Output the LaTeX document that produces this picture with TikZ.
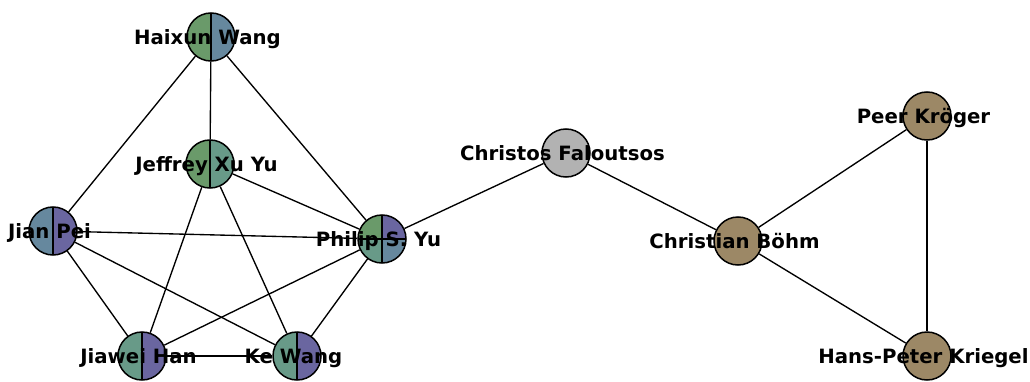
\documentclass[tikz,border=0pt]{standalone}
\usepackage{fontspec}
\setmainfont{DejaVu Sans}[BoldFont={DejaVu Sans Bold}]
\definecolor{cgreen}{RGB}{106,154,106}
\definecolor{cteal}{RGB}{104,154,136}
\definecolor{cblue}{RGB}{102,136,158}
\definecolor{cpurple}{RGB}{106,102,160}
\definecolor{cgray}{RGB}{178,178,178}
\definecolor{cbrown}{RGB}{156,136,102}
\begin{document}
\begin{tikzpicture}[x=1pt,y=1pt,
  vert/.style={circle,draw=black,line width=1.5pt,minimum size=48pt,inner sep=0pt},
  halves/.style 2 args={vert,path picture={
    \fill[#1] (path picture bounding box.south west) rectangle (path picture bounding box.north);
    \fill[#2] (path picture bounding box.south) rectangle (path picture bounding box.north east);
    \draw[line width=1.5pt] (path picture bounding box.north) -- (path picture bounding box.south);}},
  quads/.style={vert,path picture={
    \fill[cgreen] (path picture bounding box.center) rectangle (path picture bounding box.north west);
    \fill[cpurple] (path picture bounding box.center) rectangle (path picture bounding box.north east);
    \fill[cteal] (path picture bounding box.center) rectangle (path picture bounding box.south west);
    \fill[cblue] (path picture bounding box.center) rectangle (path picture bounding box.south east);
    \draw[line width=1.5pt] (path picture bounding box.north) -- (path picture bounding box.south)
      (path picture bounding box.west) -- (path picture bounding box.east);}},
  solid/.style={vert,fill=#1},
  edge/.style={line width=1.35pt},
  lab/.style={anchor=base,inner sep=0pt,font=\fontsize{19.7}{23}\selectfont\bfseries}
]
\useasboundingbox (0,0) rectangle (1030,381);
\node[halves={cgreen}{cblue}] (HW) at (211,344) {};
\node[halves={cgreen}{cteal}] (JY) at (210,217) {};
\node[halves={cblue}{cpurple}] (JP) at (53,150) {};
\node[quads] (PY) at (382,142) {};
\node[halves={cteal}{cpurple}] (JH) at (142,25) {};
\node[halves={cteal}{cpurple}] (KW) at (297,25) {};
\node[solid=cgray] (CF) at (566,228) {};
\node[solid=cbrown] (CB) at (738,140) {};
\node[solid=cbrown] (PK) at (927,265) {};
\node[solid=cbrown] (HK) at (927,25) {};
\draw[edge] (HW) -- (JY);
\draw[edge] (HW) -- (JP);
\draw[edge] (HW) -- (PY);
\draw[edge] (JY) -- (PY);
\draw[edge] (JY) -- (JH);
\draw[edge] (JY) -- (KW);
\draw[edge] (JP) -- (PY);
\draw[edge] (JP) -- (JH);
\draw[edge] (JP) -- (KW);
\draw[edge] (PY) -- (JH);
\draw[edge] (PY) -- (KW);
\draw[edge] (JH) -- (KW);
\draw[edge] (PY) -- (CF);
\draw[edge] (CF) -- (CB);
\draw[edge] (CB) -- (PK);
\draw[edge] (CB) -- (HK);
\draw[edge] (PK) -- (HK);
\node[lab] (HWl) at ([xshift=-3.5pt,yshift=-7.5pt]HW.center) {Haixun Wang};
\node[lab] (JYl) at ([xshift=-3.5pt,yshift=-7.5pt]JY.center) {Jeffrey Xu Yu};
\node[lab] (JPl) at ([xshift=-3.5pt,yshift=-7.5pt]JP.center) {Jian Pei};
\node[lab] (PYl) at ([xshift=-3.5pt,yshift=-7.5pt]PY.center) {Philip S. Yu};
\node[lab] (JHl) at ([xshift=-3.5pt,yshift=-7.5pt]JH.center) {Jiawei Han};
\node[lab] (KWl) at ([xshift=-3.5pt,yshift=-7.5pt]KW.center) {Ke Wang};
\node[lab] (CFl) at ([xshift=-3.5pt,yshift=-7.5pt]CF.center) {Christos Faloutsos};
\node[lab] (CBl) at ([xshift=-3.5pt,yshift=-7.5pt]CB.center) {Christian Böhm};
\node[lab] (PKl) at ([xshift=-3.5pt,yshift=-7.5pt]PK.center) {Peer Kröger};
\node[lab] (HKl) at ([xshift=-3.5pt,yshift=-7.5pt]HK.center) {Hans-Peter Kriegel};
\end{tikzpicture}
\end{document}
